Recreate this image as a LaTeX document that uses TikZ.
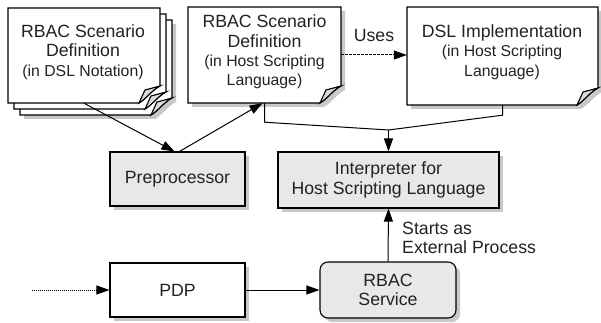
\documentclass[tikz,border=0pt]{standalone}
\usepackage{fontspec}
\setmainfont{Liberation Sans}
\usetikzlibrary{arrows.meta,shadows}
\definecolor{boxfill}{HTML}{E8E8E8}
\definecolor{shadowgray}{HTML}{C8C8C8}
\definecolor{flapgray}{HTML}{DADADA}
\definecolor{txtcol}{HTML}{222222}
\newcommand\bigf{\fontsize{17.7}{19.3}\selectfont}
\newcommand\smallf{\fontsize{15.8}{18}\selectfont}
\newcommand\pageoutline[4]{(#1,#2) -- (#3,#2) -- (#3,#4-17) .. controls (#3-8,#4-13) and (#3-14,#4-4) .. (#3-21,#4) -- (#1,#4) -- cycle}
\newcommand\drawpage[5]{%
  \ifnum#5=1 \fill[shadowgray, shift={(4,4)}] \pageoutline{#1}{#2}{#3}{#4};\fi
  \draw[pageline, fill=white] \pageoutline{#1}{#2}{#3}{#4};
  \draw[pageline, fill=flapgray] (#3-21,#4) -- (#3-15,#4-13) -- (#3,#4-17) .. controls (#3-8,#4-13) and (#3-14,#4-4) .. (#3-21,#4) -- cycle;
}
\begin{document}
\begin{tikzpicture}[x=1pt,y=-1pt,
  pageline/.style={line width=1.1pt, line join=miter},
  docarea/.style={draw=none, inner sep=0pt},
  txt/.style={align=center, inner sep=0pt, text=txtcol},
  procbox/.style={draw, line width=1.1pt, fill=boxfill, inner sep=0pt, text=txtcol,
    drop shadow={shadow xshift=4pt, shadow yshift=-4pt, fill=shadowgray, opacity=1}},
  plainbox/.style={draw, line width=1.1pt, fill=white, inner sep=0pt, text=txtcol,
    drop shadow={shadow xshift=4pt, shadow yshift=-4pt, fill=shadowgray, opacity=1}},
  conn/.style={line width=1pt, -{Triangle[length=13pt,width=9pt]}},
  font=\bigf]
\useasboundingbox (0,0) rectangle (601,323);

% document pages
\drawpage{20}{20}{172}{115}{1}
\drawpage{14}{14}{166}{109}{0}
\drawpage{8}{8}{160}{103}{0}
\drawpage{188}{7}{341}{103}{1}
\drawpage{407}{7}{598}{105}{1}

\node[docarea, minimum width=152pt, minimum height=95pt] (ldoc) at (84,55.5) {};
\node[docarea, minimum width=153pt, minimum height=96pt] (mdoc) at (264.5,55) {};
\node[docarea, minimum width=191pt, minimum height=98pt] (dsl) at (502.5,56) {};

\node[txt] (ldoctxt) at (83,52) {\bigf RBAC Scenario\\Definition\\\smallf (in DSL Notation)};
\node[txt] (mdoctxt) at (264.5,52) {\bigf RBAC Scenario\\Definition\\\smallf (in Host Scripting\\\smallf Language)};
\node[txt] (dsltxt) at (502,52) {\bigf DSL Implementation\\\smallf (in Host Scripting\\\smallf Language)};

% process boxes
\node[procbox, minimum width=135pt, minimum height=54pt] (pre) at (177.5,179) {Preprocessor};
\node[procbox, minimum width=221pt, minimum height=56pt, align=center] (interp) at (388.5,180) {Interpreter for\\Host Scripting Language};
\node[plainbox, minimum width=135pt, minimum height=54pt] (pdp) at (177.5,290) {PDP};
\node[procbox, rounded corners=8pt, minimum width=136pt, minimum height=56pt, align=center] (svc) at (388,290) {RBAC\\Service};

% labels
\node[anchor=base, inner sep=0pt, text=txtcol] (uses) at (374,42) {Uses};
\node[anchor=west, align=left, inner sep=0pt, text=txtcol] (starts) at (402,238) {Starts as\\External Process};

% connectors
\coordinate (src) at (32,290);
\coordinate (join) at (388.5,130);
\draw[conn] (ldoc.south) -- ([xshift=-3pt]pre.north);
\draw[conn] ([xshift=2pt]pre.north) -- ([xshift=-2pt]mdoc.south);
\draw[conn, dash pattern=on 2.5pt off 1.5pt] (mdoc.east) -- (mdoc.east -| dsl.west);
\draw[line width=1pt] (mdoc.south) -- ++(0,19) -- (join);
\draw[line width=1pt] (dsl.south) -- ++(0,10) -- (join);
\draw[conn] (join) -- (interp.north);
\draw[conn, dash pattern=on 1pt off 1pt] (src) -- (pdp.west);
\draw[conn] (pdp.east) -- (svc.west);
\draw[conn] (svc.north) -- (interp.south);
\end{tikzpicture}
\end{document}
